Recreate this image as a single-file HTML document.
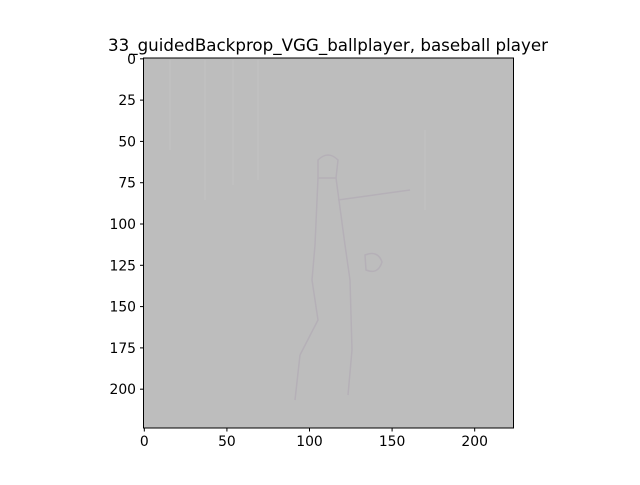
<!DOCTYPE html>
<html><head><meta charset="utf-8"><style>
body{margin:0;background:#fff;}
svg text{font-family:"DejaVu Sans","Liberation Sans",sans-serif;font-size:13.9px;fill:#000;}
</style></head><body>
<svg width="640" height="480" xmlns="http://www.w3.org/2000/svg">
<text x="328" y="51" text-anchor="middle" style="font-size:16.7px">33_guidedBackprop_VGG_ballplayer, baseball player</text>
<g id="img">
<rect x="143.5" y="58" width="370" height="370" fill="#bdbdbd"/>
<g fill="none" stroke="#b0a8b4" stroke-width="1.5" opacity="0.6">
<path d="M318 160 Q328 150 338 160 L336 178 L318 178 Z"/>
<path d="M318 178 L315 245 L312 280 L318 320 L300 355"/>
<path d="M336 178 L345 245 L350 280 L352 350 L348 395"/>
<path d="M338 200 L410 190"/>
<path d="M365 255 Q378 250 382 262 Q378 275 366 270 Z"/>
<path d="M300 355 L295 400"/>
</g>
<g stroke="#c3c3c3" stroke-width="2" opacity="0.5">
<line x1="170" y1="60" x2="170" y2="150"/><line x1="205" y1="60" x2="205" y2="200"/>
<line x1="233" y1="60" x2="233" y2="185"/><line x1="258" y1="60" x2="258" y2="180"/>
<line x1="425" y1="130" x2="425" y2="210"/>
</g>
</g>
<rect x="143.5" y="58" width="370" height="370" fill="none" stroke="#000" stroke-width="1"/>
<g id="xt"></g>
<g id="yt"></g>
</svg>
<script>
const xTicks=[0,50,100,150,200];
const yTicks=[0,25,50,75,100,125,150,175,200];
const x0=143.5,y0=58,s=370/224;
const ns="http://www.w3.org/2000/svg";
function px(v){return x0+(v+0.5)*s;}
function py(v){return y0+(v+0.5)*s;}
const xt=document.getElementById('xt'),yt=document.getElementById('yt');
xTicks.forEach(v=>{
 const l=document.createElementNS(ns,'line');
 l.setAttribute('x1',px(v));l.setAttribute('x2',px(v));l.setAttribute('y1',428);l.setAttribute('y2',431.5);l.setAttribute('stroke','#000');
 
 
 xt.appendChild(l);
 const t=document.createElementNS(ns,'text');
 t.setAttribute('x',px(v));t.setAttribute('y',446);t.setAttribute('text-anchor','middle');t.textContent=v;
 
 
 xt.appendChild(t);
});
yTicks.forEach(v=>{
 const l=document.createElementNS(ns,'line');
 l.setAttribute('x1',140);l.setAttribute('x2',143.5);l.setAttribute('y1',py(v));l.setAttribute('y2',py(v));l.setAttribute('stroke','#000');
 
 
 yt.appendChild(l);
 const t=document.createElementNS(ns,'text');
 t.setAttribute('x',136);t.setAttribute('y',py(v)+5);t.setAttribute('text-anchor','end');t.textContent=v;
 
 
 yt.appendChild(t);
});
</script>
</body></html>
